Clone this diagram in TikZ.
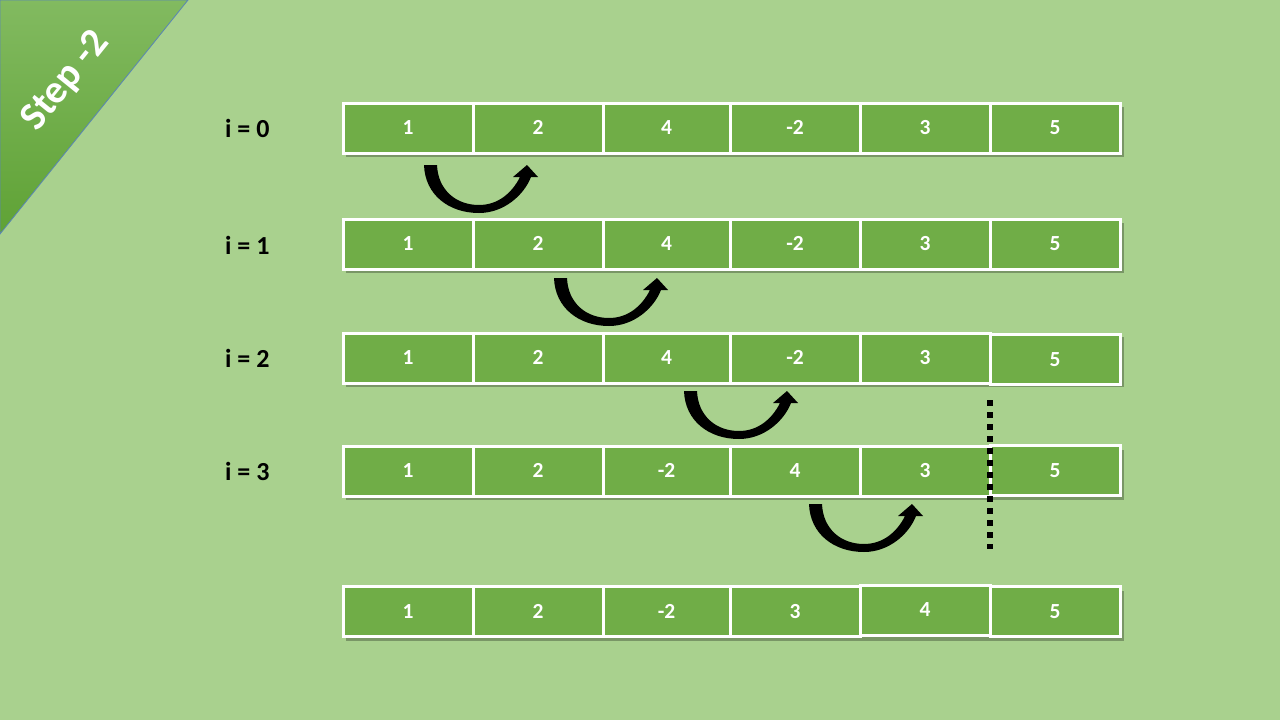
\documentclass[tikz,border=0pt]{standalone}
\usepackage{fontspec}
\setmainfont{Carlito}
\definecolor{bg}{HTML}{A9D18E}
\definecolor{cellg}{HTML}{70AD47}
\definecolor{tritop}{HTML}{82BA60}
\definecolor{tribot}{HTML}{5FA235}
\definecolor{triedge}{HTML}{5A85B5}
\tikzset{
  cell/.style={draw=white, line width=3pt, fill=cellg, text=white, inner sep=0pt,
    minimum height=50pt, text height=13.5pt, text depth=0pt,
    font=\bfseries\fontsize{21.5}{21.5}\selectfont},
  lbl/.style={anchor=west, inner sep=0pt, text=black, text height=16.5pt, text depth=0pt,
    font=\bfseries\fontsize{26}{26}\selectfont},
  shadowbox/.style={fill=black, opacity=0.28},
  uarrow/.pic={
    \fill[black] (0,0) .. controls (1,30) and (25,48) .. (55,48)
      .. controls (80,48) and (100,30) .. (107,12)
      -- (114,12) -- (103,0) -- (89,12) -- (96,12)
      .. controls (88,28) and (74,40) .. (55,40)
      .. controls (32,40) and (14,25) .. (13,0) -- cycle;
  }
}
\begin{document}
\begin{tikzpicture}[x=1pt,y=-1pt]
\fill[bg] (0,0) rectangle (1280,720);
\useasboundingbox (0,0) rectangle (1280,720);
% corner triangle
\shade[top color=tritop, bottom color=tribot] (0,0) -- (188,0) -- (0,234) -- cycle;
\draw[triedge, line width=0.8pt] (0,234) -- (0,0) -- (188,0) -- cycle;
\node[rotate=51, text=white, inner sep=0pt, font=\bfseries\fontsize{40}{40}\selectfont] (step) at (66,81) {Step -2};
% x boundaries: 343 473 603 730 860 990 1120
% shadows
\foreach \yt in {103,219,333,446,587}{
  \fill[shadowbox] (346,\yt+4) rectangle (1124,\yt+54);
}
% row 0
\node[cell, minimum width=130pt] (r0c1) at (408,128) {1};
\node[cell, minimum width=130pt] (r0c2) at (538,128) {2};
\node[cell, minimum width=127pt] (r0c3) at (666.5,128) {4};
\node[cell, minimum width=130pt] (r0c4) at (795,128) {-2};
\node[cell, minimum width=130pt] (r0c5) at (925,128) {3};
\node[cell, minimum width=130pt] (r0c6) at (1055,128) {5};
% row 1
\node[cell, minimum width=130pt] (r1c1) at (408,244) {1};
\node[cell, minimum width=130pt] (r1c2) at (538,244) {2};
\node[cell, minimum width=127pt] (r1c3) at (666.5,244) {4};
\node[cell, minimum width=130pt] (r1c4) at (795,244) {-2};
\node[cell, minimum width=130pt] (r1c5) at (925,244) {3};
\node[cell, minimum width=130pt] (r1c6) at (1055,244) {5};
% row 2
\node[cell, minimum width=130pt] (r2c1) at (408,358) {1};
\node[cell, minimum width=130pt] (r2c2) at (538,358) {2};
\node[cell, minimum width=127pt] (r2c3) at (666.5,358) {4};
\node[cell, minimum width=130pt] (r2c4) at (795,358) {-2};
\node[cell, minimum width=130pt] (r2c5) at (925,358) {3};
\node[cell, minimum width=130pt] (r2c6) at (1055,359.5) {5};
% row 3
\node[cell, minimum width=130pt] (r3c1) at (408,471) {1};
\node[cell, minimum width=130pt] (r3c2) at (538,471) {2};
\node[cell, minimum width=127pt] (r3c3) at (666.5,471) {-2};
\node[cell, minimum width=130pt] (r3c4) at (795,471) {4};
\node[cell, minimum width=130pt] (r3c5) at (925,471) {3};
\node[cell, minimum width=130pt] (r3c6) at (1055,470.5) {5};
% row 4
\node[cell, minimum width=130pt] (r4c1) at (408,611.5) {1};
\node[cell, minimum width=130pt] (r4c2) at (538,611.5) {2};
\node[cell, minimum width=127pt] (r4c3) at (666.5,611.5) {-2};
\node[cell, minimum width=130pt] (r4c4) at (795,611.5) {3};
\node[cell, minimum width=130pt] (r4c5) at (925,610) {4};
\node[cell, minimum width=130pt] (r4c6) at (1055,611.5) {5};
% labels
\node[lbl] (l0) at (225,129) {i = 0};
\node[lbl] (l1) at (225,246) {i = 1};
\node[lbl] (l2) at (225,359) {i = 2};
\node[lbl] (l3) at (225,472) {i = 3};
% swap arrows
\pic at (424,165) {uarrow};
\pic at (554,278) {uarrow};
\pic at (684,391) {uarrow};
\pic at (809,504) {uarrow};
% dotted divider
\coordinate (dtop) at (990,400);
\coordinate (dbot) at (990,549);
\draw[black, line width=6pt, dash pattern=on 6pt off 6pt] (dtop) -- (dbot);
\end{tikzpicture}
\end{document}
